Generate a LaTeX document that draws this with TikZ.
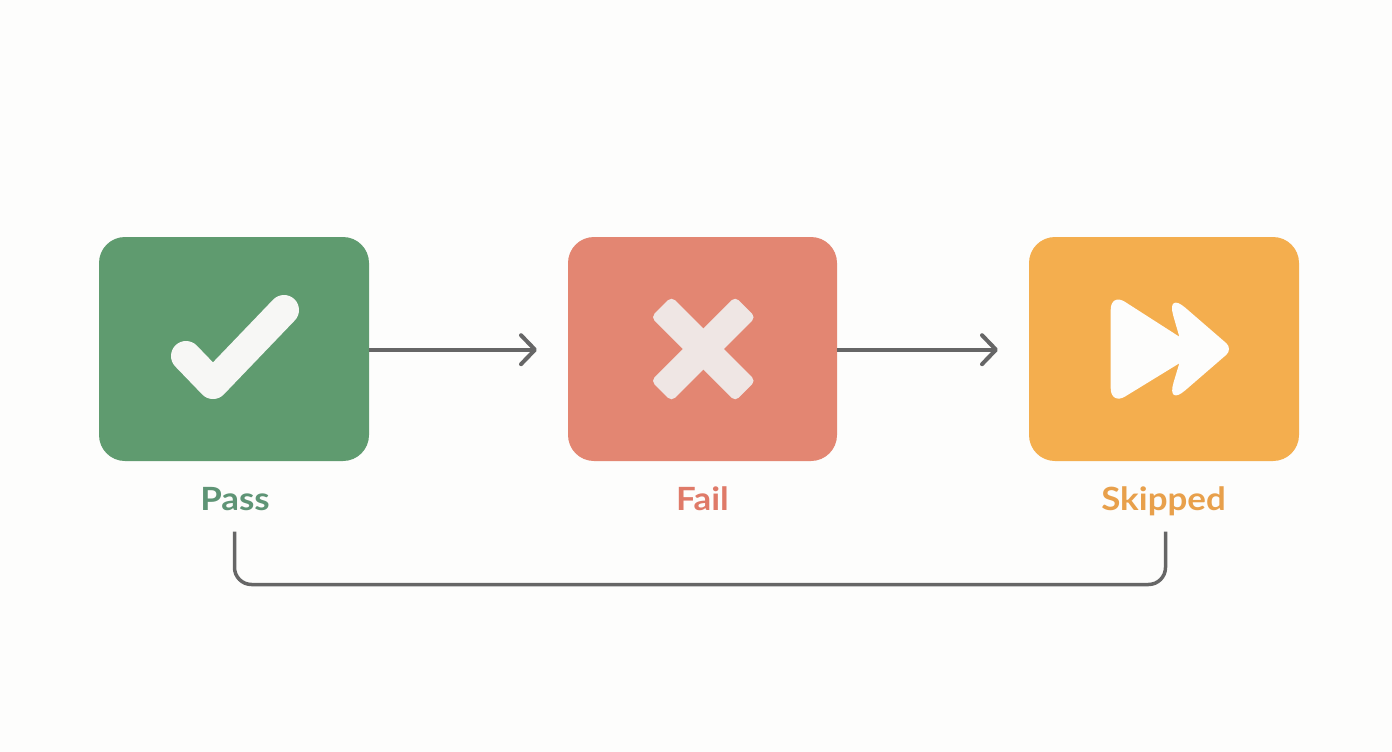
\documentclass[tikz,border=0pt]{standalone}
\usepackage{fontspec}
\setmainfont[FakeStretch=1.09]{Lato}
\usetikzlibrary{arrows.meta}
\definecolor{bgc}{HTML}{FDFDFC}
\definecolor{greenc}{HTML}{5F9B6F}
\definecolor{redc}{HTML}{E38672}
\definecolor{orangec}{HTML}{F4AE4E}
\definecolor{greent}{HTML}{5E9475}
\definecolor{redt}{HTML}{DF7A68}
\definecolor{oranget}{HTML}{E8A04B}
\definecolor{linec}{HTML}{666666}
\definecolor{checkc}{HTML}{F7F7F5}
\definecolor{crossc}{HTML}{EFE6E4}
\tikzset{
  statebox/.style={draw=none,rounded corners=26pt,minimum width=270pt,minimum height=224pt,inner sep=0pt,outer sep=0pt},
  statelabel/.style={anchor=base,inner sep=0pt,font=\fontsize{32}{32}\selectfont\bfseries},
  flow/.style={draw=linec,line width=4pt,-{Straight Barb[length=14pt,width=29pt,line width=4pt,round]}},
  loopline/.style={draw=linec,line width=3.5pt,rounded corners=17pt}
}
\begin{document}
\begin{tikzpicture}[x=1pt,y=-1pt]
\fill[bgc] (0,0) rectangle (1392,752);
\useasboundingbox (0,0) rectangle (1392,752);
\node[statebox,fill=greenc] (pass) at (234,349) {};
\node[statebox,fill=redc,minimum width=269pt] (fail) at (702.5,349) {};
\node[statebox,fill=orangec] (skip) at (1164,349) {};
\node[statelabel,text=greent] (lpass) at (235,510.5) {Pass};
\node[statelabel,text=redt] (lfail) at (702.5,510.5) {Fail};
\node[statelabel,text=oranget] (lskip) at (1163.5,510.5) {Skipped};
\coordinate (a1) at (537,349.7);
\coordinate (a2) at (998,349.7);
\coordinate (b1) at (234.5,531.5);
\coordinate (b2) at (1165.5,531.5);
\coordinate (b3) at (234.5,584.5);
\coordinate (b4) at (1165.5,584.5);
\draw[flow] (pass.east |- a1) -- (a1);
\draw[flow] (fail.east |- a2) -- (a2);
\draw[loopline] (b1) -- (b3) -- (b4) -- (b2);
% check
\draw[checkc,line width=30pt,line cap=round,line join=round] (186,356) -- (213,384) -- (284,310);
% cross
\fill[crossc,shift={(703.3,349)},rotate=45,rounded corners=5pt] (-59.5,-14.5) rectangle (59.5,14.5);
\fill[crossc,shift={(703.3,349)},rotate=-45,rounded corners=5pt] (-59.5,-14.5) rectangle (59.5,14.5);
% skip
\fill[bgc] (1179.3,336.7)
  [rounded corners=17pt] -- (1110.7,292.7) -- (1110.7,405.3)
  [sharp corners] -- (1179.3,363.3)
  [rounded corners=25pt] -- (1166.3,406.7)
  [rounded corners=9pt] -- (1233,349)
  [rounded corners=25pt] -- (1166.3,291.3)
  [sharp corners] -- cycle;
\end{tikzpicture}
\end{document}
